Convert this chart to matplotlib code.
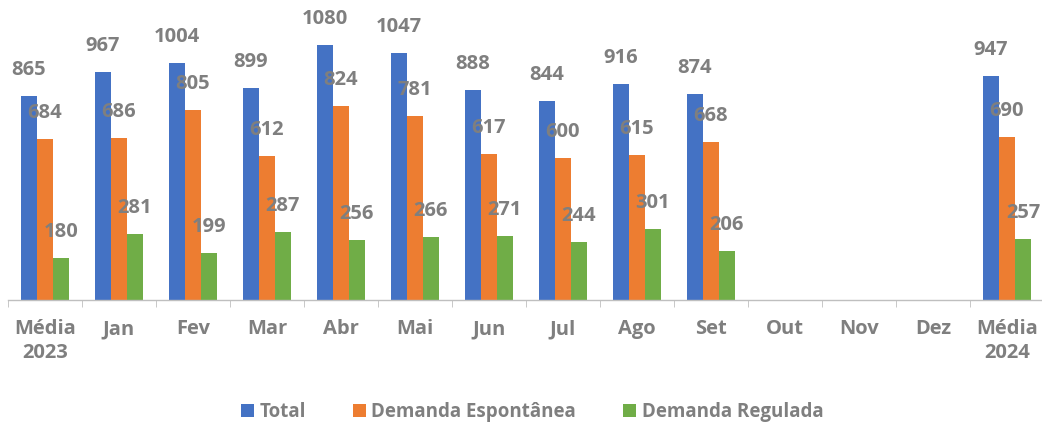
import matplotlib
matplotlib.use("Agg")
import matplotlib.pyplot as plt
import numpy as np

categories = ["Média\n2023", "Jan", "Fev", "Mar", "Abr", "Mai", "Jun", "Jul",
              "Ago", "Set", "Out", "Nov", "Dez", "Média\n2024"]
total = [865, 967, 1004, 899, 1080, 1047, 888, 844, 916, 874, None, None, None, 947]
espontanea = [684, 686, 805, 612, 824, 781, 617, 600, 615, 668, None, None, None, 690]
regulada = [180, 281, 199, 287, 256, 266, 271, 244, 301, 206, None, None, None, 257]
series_names = ["Total", "Demanda Espontânea", "Demanda Regulada"]
colors = ["#4472C4", "#ED7D31", "#70AD47"]

plt.rcParams['font.family'] = ['Open Sans', 'DejaVu Sans']
gray = "#7F7F7F"

fig = plt.figure(figsize=(10.42, 4.26), dpi=100)
ax = fig.add_axes([8/1042, 126/426, 1036/1042, 300/426])

n = len(categories)
x = np.arange(n)
w = 0.216
offsets = [-w, 0, w]
for vals, off, col, name in zip([total, espontanea, regulada], offsets, colors, series_names):
    h = np.array([np.nan if v is None else v for v in vals], dtype=float)
    ax.bar(x + off, np.nan_to_num(h), width=w, color=col, label=name)
    for xi, v in zip(x, vals):
        if v is None:
            continue
        ax.annotate(str(v), (xi + off, v), xytext=(0, 26), textcoords='offset pixels',
                    ha='center', va='center', fontsize=14.5, fontweight='bold', color=gray)

ax.set_xlim(-0.5, n - 0.5)
ax.set_ylim(0, 1271)
ax.set_yticks([])
for s in ['top', 'right', 'left']:
    ax.spines[s].set_visible(False)
ax.spines['bottom'].set_color('#BFBFBF')
ax.spines['bottom'].set_linewidth(1.0)
ax.set_xticks(x)
ax.set_xticklabels(categories, fontsize=14.5, fontweight='bold', color=gray, linespacing=1.22)
ax.tick_params(axis='x', which='major', length=0, pad=14)
ax.set_xticks(np.arange(-0.5, n, 1.0), minor=True)
ax.tick_params(axis='x', which='minor', length=5, color='#BFBFBF')

leg = fig.legend(loc='center', bbox_to_anchor=(532/1042, 1 - 412/426), ncol=3, frameon=False,
                 prop={'size': 13.5, 'weight': 'bold'}, handlelength=0.7, handleheight=0.7,
                 handletextpad=0.3, columnspacing=2.5)
for t in leg.get_texts():
    t.set_color(gray)

fig.savefig("out.png", dpi=100)
